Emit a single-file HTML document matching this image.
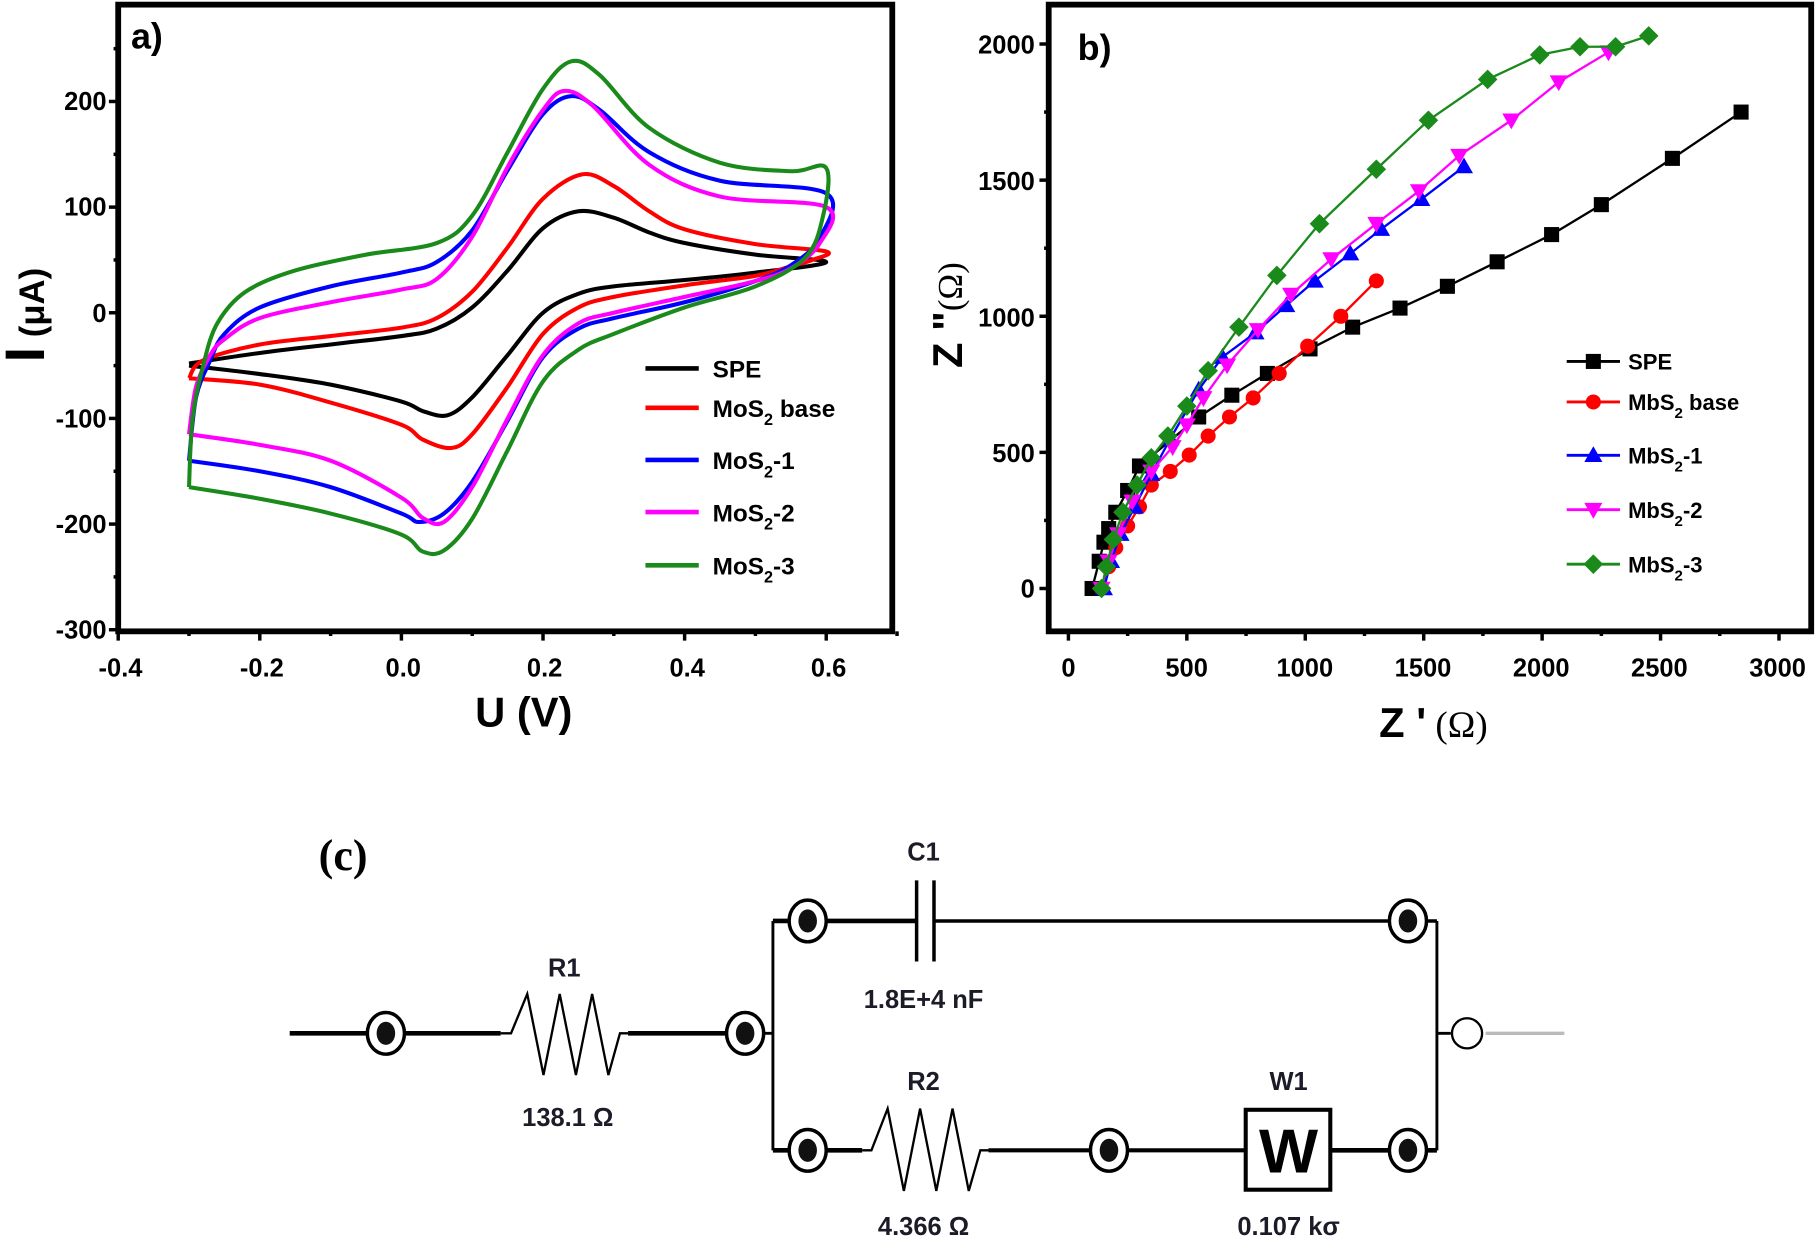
<!DOCTYPE html>
<html><head><meta charset="utf-8"><style>
html,body{margin:0;padding:0;background:#fff;}
svg{display:block;}
</style></head><body>
<svg id="s" width="1817" height="1243" viewBox="0 0 1568 1073" preserveAspectRatio="none" xmlns="http://www.w3.org/2000/svg" font-family="Liberation Sans, Arial, sans-serif">
<rect width="1568" height="1073" fill="#fff"/>
<rect x="102" y="4" width="668" height="541" fill="none" stroke="#000" stroke-width="5"/>
<g id="atk" stroke="#000" stroke-width="3"></g>
<g font-weight="bold" font-size="22" fill="#000" text-anchor="end">
<text x="92" y="95">200</text><text x="92" y="186">100</text><text x="92" y="278">0</text>
<text x="92" y="369">-100</text><text x="92" y="460">-200</text><text x="92" y="551">-300</text>
</g>
<g font-weight="bold" font-size="22" fill="#000" text-anchor="middle">
<text x="104" y="584">-0.4</text><text x="226" y="584">-0.2</text><text x="348" y="584">0.0</text>
<text x="470" y="584">0.2</text><text x="593" y="584">0.4</text><text x="715" y="584">0.6</text>
</g>
<text x="452" y="627" font-size="36" font-weight="bold" text-anchor="middle">U (V)</text>
<g transform="translate(38,272) rotate(-90)"><text text-anchor="middle" font-weight="bold"><tspan font-size="48">I</tspan><tspan font-size="30"> (μA)</tspan></text></g>
<text x="113" y="42" font-size="31" font-weight="bold">a)</text>
<g id="cv" fill="none" stroke-width="3.5" stroke-linejoin="round"></g>
<g font-weight="bold" font-size="21" fill="#000">
<line x1="557" y1="318" x2="603" y2="318" stroke="#000" stroke-width="4"/><text x="615" y="326">SPE</text>
<line x1="557" y1="352" x2="603" y2="352" stroke="#f00" stroke-width="4"/><text x="615" y="360">MoS<tspan font-size="14" dy="7">2</tspan><tspan dy="-7"> base</tspan></text>
<line x1="557" y1="397" x2="603" y2="397" stroke="#00f" stroke-width="4"/><text x="615" y="405">MoS<tspan font-size="14" dy="7">2</tspan><tspan dy="-7">-1</tspan></text>
<line x1="557" y1="442" x2="603" y2="442" stroke="#f0f" stroke-width="4"/><text x="615" y="450">MoS<tspan font-size="14" dy="7">2</tspan><tspan dy="-7">-2</tspan></text>
<line x1="557" y1="488" x2="603" y2="488" stroke="#1a8a1a" stroke-width="4"/><text x="615" y="496">MoS<tspan font-size="14" dy="7">2</tspan><tspan dy="-7">-3</tspan></text>
</g>
<rect x="905" y="4" width="658" height="541" fill="none" stroke="#000" stroke-width="5"/>
<g id="btk" stroke="#000" stroke-width="3"></g>
<g font-weight="bold" font-size="22" fill="#000" text-anchor="end">
<text x="893" y="46">2000</text><text x="893" y="164">1500</text><text x="893" y="282">1000</text>
<text x="893" y="399">500</text><text x="893" y="516">0</text>
</g>
<g font-weight="bold" font-size="22" fill="#000" text-anchor="middle">
<text x="922" y="584">0</text><text x="1024" y="584">500</text><text x="1126" y="584">1000</text>
<text x="1228" y="584">1500</text><text x="1330" y="584">2000</text><text x="1432" y="584">2500</text><text x="1534" y="584">3000</text>
</g>
<text x="1237" y="636" text-anchor="middle"><tspan font-size="36" font-weight="bold">Z '</tspan><tspan font-size="32" font-family="Liberation Serif, serif"> (Ω)</tspan></text>
<g transform="translate(830,272) rotate(-90)"><text text-anchor="middle"><tspan font-size="36" font-weight="bold">Z "</tspan><tspan font-size="30" font-family="Liberation Serif, serif">(Ω)</tspan></text></g>
<text x="930" y="52" font-size="31" font-weight="bold">b)</text>
<g id="ny"></g>
<g font-weight="bold" font-size="19" fill="#000">
<text x="1405" y="319">SPE</text>
<text x="1405" y="354">MbS<tspan font-size="13" dy="7">2</tspan><tspan dy="-7"> base</tspan></text>
<text x="1405" y="400">MbS<tspan font-size="13" dy="7">2</tspan><tspan dy="-7">-1</tspan></text>
<text x="1405" y="447">MbS<tspan font-size="13" dy="7">2</tspan><tspan dy="-7">-2</tspan></text>
<text x="1405" y="494">MbS<tspan font-size="13" dy="7">2</tspan><tspan dy="-7">-3</tspan></text>
</g>
<g stroke="#000" fill="none">
<line x1="250" y1="892" x2="432" y2="892" stroke-width="4"/>
<line x1="542" y1="892" x2="643" y2="892" stroke-width="4"/>
<polyline points="432,892 441,892 455,858 469,928 483,858 497,928 511,858 525,928 535,892 542,892" stroke-width="2"/>
<line x1="667" y1="795" x2="667" y2="993" stroke-width="2.5"/>
<line x1="643" y1="892" x2="667" y2="892" stroke-width="2.5"/>
<line x1="667" y1="795" x2="791" y2="795" stroke-width="4"/>
<line x1="806" y1="795" x2="1240" y2="795" stroke-width="3"/>
<line x1="791" y1="760" x2="791" y2="830" stroke-width="3"/>
<line x1="806" y1="760" x2="806" y2="830" stroke-width="3"/>
<line x1="1240" y1="795" x2="1240" y2="993" stroke-width="2.5"/>
<line x1="1240" y1="892" x2="1252" y2="892" stroke-width="2.5"/>
<line x1="1282" y1="892" x2="1350" y2="892" stroke="#bbb" stroke-width="3"/>
<line x1="667" y1="993" x2="744" y2="993" stroke-width="4"/>
<polyline points="744,993 752,993 766,957 780,1028 794,957 808,1028 822,957 836,1028 846,993 853,993" stroke-width="2"/>
<line x1="853" y1="993" x2="1075" y2="993" stroke-width="3.5"/>
<line x1="1148" y1="993" x2="1240" y2="993" stroke-width="4"/>
<rect x="1075" y="958" width="73" height="69" stroke-width="3.5" fill="#fff"/>
<circle cx="1266" cy="892" r="13" stroke-width="2" fill="#fff"/>
</g>
<g id="nodes"></g>
<text x="1112" y="1012" font-size="54" font-weight="bold" text-anchor="middle">W</text>
<g font-size="22" font-weight="bold" fill="#1c1c28" text-anchor="middle">
<text x="797" y="743">C1</text>
<text x="797" y="870">1.8E+4 nF</text>
<text x="487" y="843">R1</text>
<text x="490" y="972">138.1  Ω</text>
<text x="797" y="941">R2</text>
<text x="1112" y="941">W1</text>
<text x="797" y="1066">4.366  Ω</text>
<text x="1112" y="1066">0.107 kσ</text>
</g>
<text x="275" y="751" font-size="38" font-weight="bold" font-family="Liberation Serif, serif">(c)</text>
</svg>
<script>
var NS="http://www.w3.org/2000/svg";
function el(p,t,a){var e=document.createElementNS(NS,t);for(var k in a)e.setAttribute(k,a[k]);p.appendChild(e);return e;}
function smooth(pts){var d="M"+pts[0][0].toFixed(1)+","+pts[0][1].toFixed(1);
for(var i=0;i<pts.length-1;i++){var p0=pts[i-1]||pts[i],p1=pts[i],p2=pts[i+1],p3=pts[i+2]||p2;
var c1=[p1[0]+(p2[0]-p0[0])/6,p1[1]+(p2[1]-p0[1])/6],c2=[p2[0]-(p3[0]-p1[0])/6,p2[1]-(p3[1]-p1[1])/6];
d+=" C"+c1[0].toFixed(1)+","+c1[1].toFixed(1)+" "+c2[0].toFixed(1)+","+c2[1].toFixed(1)+" "+p2[0].toFixed(1)+","+p2[1].toFixed(1);}return d;}
var atk=document.getElementById("atk");
function ax(v){return 102+(v+0.4)*611;} function ay(v){return 270-v*0.912;}
for(var i=0;i<=11;i++){var v=-0.4+i*0.1;var x=ax(v),big=i%2==0;el(atk,"line",{x1:x,y1:545,x2:x,y2:big?553:549});}
for(var v=-300;v<=290;v+=50){var y=ay(v),big=v%100==0;el(atk,"line",{x1:102,y1:y,x2:big?94:98,y2:y});}
var cv=document.getElementById("cv");
var C={
"#000":[[-0.3,-48],[-0.2,-38],[-0.1,-30],[0,-22],[0.05,-15],[0.1,5],[0.15,40],[0.2,80],[0.25,96],[0.3,90],[0.35,76],[0.4,66],[0.5,55],[0.6,48],[0.5,38],[0.4,31],[0.3,25],[0.25,18],[0.2,0],[0.15,-40],[0.1,-80],[0.065,-97],[0.03,-93],[0,-84],[-0.1,-68],[-0.2,-58],[-0.3,-50]],
"#f00":[[-0.3,-62],[-0.28,-45],[-0.2,-30],[-0.1,-22],[0,-14],[0.05,-5],[0.1,20],[0.15,62],[0.2,108],[0.255,131],[0.3,120],[0.35,96],[0.4,79],[0.5,65],[0.6,58],[0.58,50],[0.55,44],[0.5,35],[0.4,26],[0.3,15],[0.25,5],[0.2,-20],[0.15,-70],[0.1,-115],[0.07,-128],[0.03,-120],[0,-106],[-0.1,-85],[-0.2,-68],[-0.3,-62]],
"#00f":[[-0.3,-140],[-0.29,-80],[-0.27,-45],[-0.25,-20],[-0.2,5],[-0.1,25],[0,38],[0.05,48],[0.1,78],[0.15,135],[0.2,188],[0.24,205],[0.28,192],[0.35,152],[0.45,125],[0.6,113],[0.59,70],[0.55,45],[0.5,30],[0.4,10],[0.3,-5],[0.25,-15],[0.2,-42],[0.15,-102],[0.1,-160],[0.06,-190],[0.025,-198],[0,-190],[-0.1,-165],[-0.2,-150],[-0.3,-140]],
"#f0f":[[-0.3,-115],[-0.29,-70],[-0.27,-40],[-0.25,-25],[-0.2,-5],[-0.1,10],[0,22],[0.05,32],[0.1,72],[0.15,138],[0.2,192],[0.23,210],[0.27,196],[0.35,140],[0.45,110],[0.6,100],[0.59,65],[0.55,42],[0.5,30],[0.4,15],[0.3,0],[0.25,-10],[0.2,-40],[0.15,-100],[0.1,-165],[0.06,-198],[0.03,-194],[0,-175],[-0.1,-140],[-0.2,-125],[-0.3,-115]],
"#1a8a1a":[[-0.3,-165],[-0.295,-100],[-0.28,-50],[-0.26,-10],[-0.22,20],[-0.15,40],[-0.05,55],[0.05,66],[0.1,92],[0.15,152],[0.2,212],[0.24,238],[0.28,225],[0.35,175],[0.45,142],[0.55,134],[0.6,137],[0.595,90],[0.57,52],[0.5,25],[0.4,5],[0.3,-20],[0.25,-35],[0.2,-65],[0.15,-130],[0.1,-195],[0.06,-225],[0.03,-226],[0,-210],[-0.1,-190],[-0.2,-176],[-0.3,-165]]};
for(var c in C){var pts=C[c].map(function(p){return [ax(p[0]),ay(p[1])];});el(cv,"path",{d:smooth(pts),stroke:c});}
var btk=document.getElementById("btk");
function bx(v){return 922+v*0.2044;} function by(v){return 508-v*0.235;}
for(var v=0;v<=3000;v+=250){var x=bx(v),big=v%500==0;el(btk,"line",{x1:x,y1:545,x2:x,y2:big?553:549});}
for(var v=0;v<=2100;v+=250){var y=by(v),big=v%500==0;if(y<6)continue;el(btk,"line",{x1:905,y1:y,x2:big?897:901,y2:y});}
var ny=document.getElementById("ny");
function marker(g,t,x,y,c,s){
 if(t==0)el(g,"rect",{x:x-s,y:y-s,width:2*s,height:2*s,fill:c});
 else if(t==1)el(g,"circle",{cx:x,cy:y,r:s,fill:c});
 else if(t==2)el(g,"polygon",{points:(x)+","+(y-s*1.2)+" "+(x-s*1.2)+","+(y+s*0.9)+" "+(x+s*1.2)+","+(y+s*0.9),fill:c});
 else if(t==3)el(g,"polygon",{points:(x)+","+(y+s*1.2)+" "+(x-s*1.2)+","+(y-s*0.9)+" "+(x+s*1.2)+","+(y-s*0.9),fill:c});
 else el(g,"polygon",{points:x+","+(y-s*1.3)+" "+(x+s*1.3)+","+y+" "+x+","+(y+s*1.3)+" "+(x-s*1.3)+","+y,fill:c});}
var N=[
["#000",0,[[100,0],[130,100],[150,170],[170,220],[200,280],[250,360],[300,450],[550,630],[690,710],[840,790],[1020,880],[1200,960],[1400,1030],[1600,1110],[1810,1200],[2040,1300],[2250,1410],[2550,1580],[2840,1750]]],
["#f00",1,[[140,0],[170,80],[200,150],[250,230],[300,300],[350,380],[430,430],[510,490],[590,560],[680,630],[780,700],[890,790],[1010,890],[1150,1000],[1300,1130]]],
["#00f",2,[[150,0],[180,100],[220,200],[280,300],[350,420],[430,550],[550,730],[650,850],[790,940],[920,1040],[1040,1130],[1190,1230],[1320,1320],[1490,1430],[1670,1550]]],
["#f0f",3,[[140,0],[170,100],[210,200],[270,320],[350,430],[440,520],[500,600],[570,700],[670,820],[800,950],[940,1080],[1110,1210],[1300,1340],[1480,1460],[1650,1590],[1870,1720],[2070,1860],[2280,1970]]],
["#1a8a1a",4,[[140,0],[160,80],[190,180],[230,280],[290,380],[350,480],[420,560],[500,670],[590,800],[720,960],[880,1150],[1060,1340],[1300,1540],[1520,1720],[1770,1870],[1990,1960],[2160,1990],[2310,1990],[2450,2030]]]];
var legY=[312,347,393,440,487];
N.forEach(function(s,i){var pts=s[2].map(function(p){return [bx(p[0]),by(p[1])];});
 el(ny,"polyline",{points:pts.map(function(p){return p.join(",")}).join(" "),fill:"none",stroke:s[0],"stroke-width":2});
 pts.forEach(function(p){marker(ny,s[1],p[0],p[1],s[0],6.5);});
 el(ny,"line",{x1:1352,y1:legY[i],x2:1398,y2:legY[i],stroke:s[0],"stroke-width":2.5});
 marker(ny,s[1],1375,legY[i],s[0],6.5);});
var nodes=document.getElementById("nodes");
[[333,892],[643,892],[697,795],[1215,795],[697,993],[957,993],[1215,993]].forEach(function(p){
 el(nodes,"ellipse",{cx:p[0],cy:p[1],rx:16,ry:18,fill:"#fff",stroke:"#000","stroke-width":3});
 el(nodes,"ellipse",{cx:p[0],cy:p[1],rx:8,ry:10,fill:"#111"});});
</script>
</body></html>
